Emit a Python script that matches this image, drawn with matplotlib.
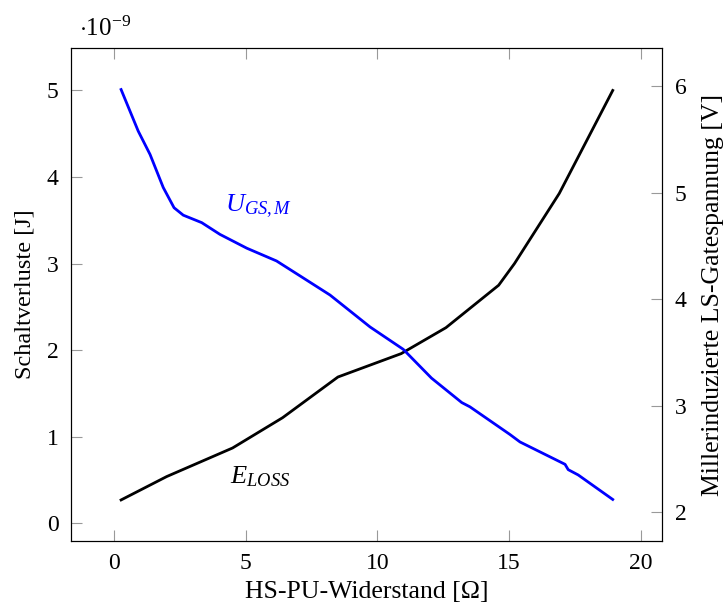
import matplotlib

matplotlib.use("Agg")
import matplotlib.pyplot as plt

# Daten
r_loss = [0.27, 2.0, 4.5, 6.4, 8.5, 10.9, 12.6, 14.6, 15.2, 16.9, 18.93]
e_loss = [0.27, 0.54, 0.87, 1.22, 1.69, 1.96, 2.26, 2.75, 3.0, 3.81, 5.0]  # x 1e-9 J

r_ugs = [0.27, 0.92, 1.37, 1.87, 2.28, 2.63, 3.33, 4.02, 5.04, 6.17, 7.06, 8.2,
         9.72, 10.98, 12.05, 13.2, 13.51, 15.03, 15.41, 17.12, 17.24, 17.62, 18.93]
u_gs = [5.97, 5.58, 5.36, 5.05, 4.86, 4.79, 4.72, 4.61, 4.48, 4.36, 4.22, 4.04,
        3.74, 3.53, 3.26, 3.03, 2.99, 2.73, 2.66, 2.45, 2.40, 2.35, 2.12]

x_ticks = [0, 5, 10, 15, 20]
left_ticks = [0, 1, 2, 3, 4, 5]
right_ticks = [2, 3, 4, 5, 6]

plt.rcParams["font.family"] = "Liberation Serif"
plt.rcParams["mathtext.fontset"] = "custom"
plt.rcParams["mathtext.rm"] = "Liberation Serif"
plt.rcParams["mathtext.it"] = "Liberation Serif:italic"
plt.rcParams["font.size"] = 17

fig = plt.figure(figsize=(7.27, 6.11), dpi=100)
ax = fig.add_axes([0.0977, 0.1146, 0.8129, 0.8068])
ax2 = ax.twinx()

ax.plot(r_loss, [v * 1e-9 for v in e_loss], color="black", linewidth=2,
        solid_joinstyle="round")
ax2.plot(r_ugs, u_gs, color="blue", linewidth=2, solid_joinstyle="round")

ax.set_xlim(-1.63, 20.8)
ax.set_ylim(-0.204e-9, 5.49e-9)
ax2.set_ylim(1.73, 6.36)

ax.set_xticks(x_ticks)
ax.set_yticks([v * 1e-9 for v in left_ticks])
ax.set_yticklabels([str(v) for v in left_ticks])
ax2.set_yticks(right_ticks)

ax.tick_params(axis="x", direction="in", top=True, length=8, color="0.6", pad=9)
ax.tick_params(axis="y", direction="in", length=8, color="0.6", pad=9)
ax2.tick_params(axis="y", direction="in", length=8, color="0.6", pad=9)

ax.set_xlabel("HS-PU-Widerstand [Ω]", labelpad=5, fontsize=18.5)
ax.set_ylabel("Schaltverluste [J]", labelpad=8, fontsize=17.5)
ax2.set_ylabel("Millerinduzierte LS-Gatespannung [V]", labelpad=11, fontsize=18.5)

ax.text(4.4, 0.54e-9, r"$E_{LOSS}$", ha="left", va="center", fontsize=19)
ax2.text(4.2, 4.87, r"$U_{GS,M}$", ha="left", va="center", color="blue", fontsize=19)

fig.text(0.108, 0.953, r"$\cdot 10^{-9}$", ha="left", va="center", fontsize=18)

fig.savefig("out.png", dpi=100)
plt.close()
